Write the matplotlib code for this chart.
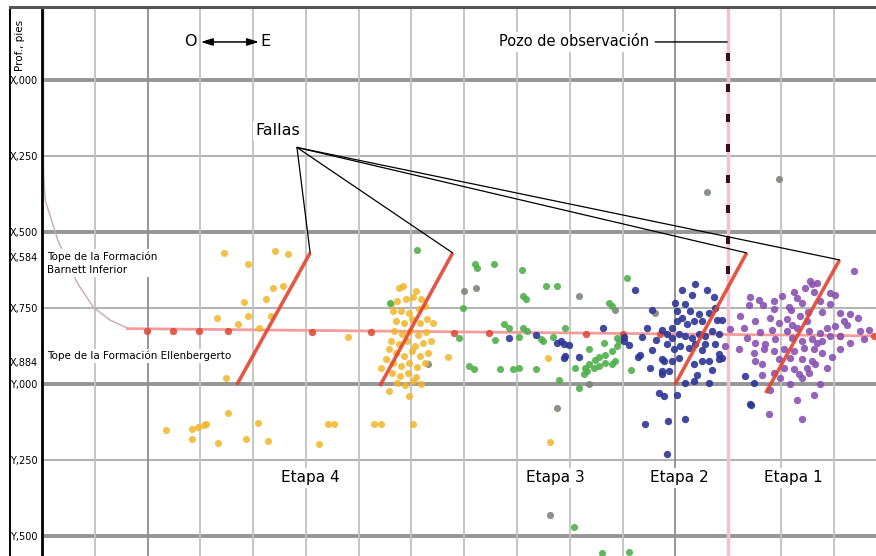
import matplotlib
matplotlib.use('Agg')
import matplotlib.pyplot as plt
from matplotlib.lines import Line2D
from matplotlib.transforms import ScaledTranslation

plt.rcParams['font.family'] = ['Liberation Sans Narrow', 'DejaVu Sans']

# Depth axis (ft below the X,000 reference)
depth_ticks = [0, 250, 500, 584, 750, 884, 1000, 1250, 1500]
depth_labels = ['X,000', 'X,250', 'X,500', 'X,584', 'X,750', 'X,884', 'Y,000', 'Y,250', 'Y,500']
major_depths = [0, 500, 1000, 1500]
minor_depths = [250, 750, 1250]
grid_east = list(range(100, 1600, 100))
dark_east = [200, 1200]

# Treatment well: build section and lateral
build_east = [3, 3, 6, 30, 67, 97, 129, 162]
build_depth = [-240, 300, 395, 527, 668, 747, 790, 816]
lateral_east = [162, 1580]
lateral_depth = [818, 842]
perf_east = [198, 249, 298, 352, 511, 623, 781, 846, 1030, 1100, 1170, 1512, 1577]
perf_depth = [826, 826, 827, 827, 829, 830, 832, 833, 835, 836, 837, 841, 842]

# Monitor well and geophone array
monitor_east = 1300
geophone_depth = [-75, 25, 125, 225, 325, 425, 525, 625]

# Interpreted faults (bottom, top)
fault_east = [(369, 508), (640, 778), (1199, 1335), (1371, 1511)]
fault_depth = [(1003, 569), (1007, 569), (1003, 569), (1030, 592)]

# Microseismic events per stage
east4 = [344, 441, 466, 391, 456, 437, 424, 382, 331, 391, 371, 433, 412, 348, 353, 409, 306, 295, 285, 234,
         285, 333, 386, 428, 524, 542, 310, 580, 770, 642, 657, 695, 553, 629, 642, 703, 958, 963,
         676, 684, 661, 673, 690, 703, 665, 680, 695, 714, 726, 671, 686, 701, 716, 730, 667, 682, 697, 713, 728,
         661, 676, 692, 707, 722, 737, 671, 686, 701, 716, 732, 665, 680, 695, 711, 726, 663, 678, 694, 709,
         673, 688, 703, 718, 652, 657, 741, 709, 718]
depth4 = [568, 564, 574, 607, 677, 683, 719, 729, 782, 776, 802, 776, 815, 980, 1096, 1129, 1135, 1142, 1148, 1152,
          1181, 1195, 1181, 1188, 1198, 1132, 1132, 845, 911, 947, 1023, 1040, 1132, 1132, 1132, 1132, 914, 1191,
          686, 677, 736, 726, 719, 713, 759, 759, 766, 752, 743, 792, 799, 785, 799, 785, 825, 835, 825, 838, 828,
          858, 868, 858, 875, 865, 858, 898, 908, 891, 908, 898, 931, 941, 931, 944, 931, 964, 974, 964, 977,
          997, 1003, 990, 1000, 917, 884, 799, 693, 719]

east3 = [711, 821, 825, 659, 798, 790, 808, 819, 857, 910, 912, 916, 954, 975, 1074, 1108, 876, 884, 912, 918,
         903, 859, 946, 969, 990, 950, 868, 893, 903, 935, 979, 1018, 1009, 1037, 1028, 1037, 1047, 1056, 1066, 1079,
         1089, 1093, 1032, 1045, 1066, 1079, 1085, 1055, 1115, 1079, 1064, 1089, 1026, 1007, 1060, 1112]
depth3 = [558, 604, 620, 733, 749, 848, 941, 950, 604, 624, 710, 719, 677, 677, 733, 650, 802, 815, 815, 825,
          845, 855, 851, 845, 815, 858, 950, 950, 947, 950, 987, 1013, 947, 884, 947, 934, 921, 911, 904, 891,
          875, 858, 957, 947, 931, 934, 924, 941, 954, 743, 865, 848, 967, 1469, 1555, 1554]

east2 = [885, 935, 975, 988, 999, 988, 1018, 1062, 1102, 1102, 1123, 1136, 1146, 1129, 1151, 1142, 1186, 1218, 1343, 1237,
         1273, 1199, 1218, 1203, 1227, 984, 990, 1174, 1178, 1184, 1193, 1203, 1212, 1222, 1235, 1245, 1250, 1264, 1275, 1193,
         1207, 1218, 1231, 1245, 1256, 1269, 1283, 1184, 1197, 1208, 1226, 1237, 1256, 1275, 1174, 1193, 1207, 1235, 1250, 1264,
         1283, 1283, 1174, 1188, 1218, 1235, 1264, 1169, 1178, 1184, 1332, 1349, 1341, 1288,
         1164, 1155, 1260, 1279, 1231, 1250, 1269, 1288, 1212, 1174, 1155, 1241, 1203, 1133, 1113]
depth2 = [848, 838, 865, 868, 871, 914, 911, 815, 845, 858, 690, 845, 815, 911, 947, 1132, 1122, 1115, 1069, 670,
          713, 733, 736, 759, 759, 858, 908, 957, 924, 835, 815, 792, 782, 802, 792, 769, 792, 766, 749, 848,
          835, 842, 848, 835, 842, 825, 835, 868, 884, 875, 881, 868, 868, 868, 917, 924, 914, 934, 924, 924,
          901, 917, 967, 957, 997, 990, 997, 1030, 1040, 1230, 974, 997, 1066, 914,
          855, 888, 691, 790, 707, 888, 954, 790, 691, 823, 757, 971, 1036, 905, 872]

east1 = [1539, 1341, 1359, 1387, 1425, 1459, 1469, 1446, 1492, 1387, 1416, 1431, 1474, 1492, 1322, 1351, 1379, 1397, 1412, 1436,
         1450, 1511, 1531, 1520, 1503, 1431, 1412, 1454, 1473, 1488, 1550, 1558, 1531, 1511, 1351, 1370, 1389, 1421, 1440, 1459,
         1478, 1492, 1511, 1321, 1349, 1368, 1387, 1406, 1425, 1444, 1463, 1478, 1351, 1364, 1397, 1417, 1440, 1459, 1406, 1425,
         1450, 1465, 1435, 1454, 1417, 1474, 1387, 1378, 1440, 1455, 1336, 1303, 1294,
         1366, 1402, 1440, 1463, 1478, 1421, 1383, 1360, 1469, 1497, 1526, 1364, 1398, 1440, 1488, 1463, 1431, 1379, 1545, 1566,
         1503, 1330, 1340, 1419, 1452]
depth1 = [627, 713, 723, 726, 696, 670, 667, 686, 700, 752, 746, 716, 726, 736, 776, 792, 782, 799, 785, 776,
          792, 766, 769, 792, 809, 815, 825, 825, 832, 815, 825, 851, 865, 842, 865, 868, 851, 848, 858, 851,
          858, 842, 884, 884, 898, 884, 891, 884, 891, 881, 884, 898, 924, 934, 917, 914, 917, 924, 947, 950,
          947, 934, 967, 964, 1000, 1000, 964, 1099, 1115, 660, 848, 818, 875,
          740, 711, 734, 697, 763, 806, 823, 829, 865, 911, 806, 971, 980, 980, 948, 1036, 1053, 1020, 783, 823,
          707, 816, 740, 757, 763]

east_other = [800, 823, 1017, 975, 1037, 963, 1085, 1161, 1260, 1397, 732]
depth_other = [693, 683, 710, 1079, 1000, 1432, 756, 766, 370, 327, 934]

stage_names = ['Etapa 4', 'Etapa 3', 'Etapa 2', 'Etapa 1']
stage_label_east = [509, 972, 1208, 1424]
stage_label_depth = 1309

fig = plt.figure(figsize=(8.76, 5.56), dpi=100)
ax = fig.add_axes([42 / 876, 0, 834 / 876, 549 / 556])
ax.set_xlim(0, 1580)
ax.set_ylim(1566, -240)

# grid
for d in major_depths:
    ax.axhline(d, color='#969696', lw=2.8, zorder=1)
for d in minor_depths:
    ax.axhline(d, color='#ababab', lw=1.3, zorder=1)
for e in grid_east:
    c = '#8e8e8e' if e in dark_east else '#c2c2c2'
    ax.axvline(e, color=c, lw=1.3, zorder=1)

# wells
ax.axvline(monitor_east, color='#f6bfce', lw=2.4, zorder=2)
ax.plot(build_east, build_depth, color='#c8aaaa', lw=1.0, zorder=2)
ax.plot(lateral_east, lateral_depth, color='#f29c9c', lw=2.0, zorder=2)
ax.scatter(perf_east, perf_depth, s=28, color='#de4c3e', alpha=0.9, zorder=3, linewidths=0)
bar = [(-0.4, -1), (0.4, -1), (0.4, 1), (-0.4, 1)]
ax.scatter([monitor_east] * len(geophone_depth), geophone_depth, marker=bar, s=30,
           color='#3d0c1c', zorder=6, linewidths=0)

# events
ax.scatter(east_other, depth_other, s=26, color='#7d857a', alpha=0.9, linewidths=0, zorder=4)
ax.scatter(east4, depth4, s=26, color='#f2b52a', alpha=0.85, linewidths=0, zorder=4)
ax.scatter(east3, depth3, s=26, color='#4fb04a', alpha=0.9, linewidths=0, zorder=4)
ax.scatter(east2, depth2, s=28, color='#2c3596', alpha=0.9, linewidths=0, zorder=4)
ax.scatter(east1, depth1, s=28, color='#8a52b2', alpha=0.9, linewidths=0, zorder=4)

# faults
for fe, fd in zip(fault_east, fault_depth):
    ax.plot(fe, fd, color='#e2452f', lw=2.6, alpha=0.9, zorder=5, solid_capstyle='butt')

white = dict(facecolor='white', edgecolor='none', pad=1.5)

# fault callouts
for fe, fd in zip(fault_east, fault_depth):
    ax.annotate('', xy=(fe[1], fd[1]), xytext=(483, 222),
                arrowprops=dict(arrowstyle='-', color='black', lw=0.9, shrinkA=0, shrinkB=0), zorder=7)
ax.text(447, 165, 'Fallas', fontsize=11.5, ha='center', va='center', bbox=white, zorder=8)

ax.annotate('Pozo de observación', xy=(1298, -125), xytext=(1150, -125), fontsize=10.5,
            ha='right', va='center', bbox=white, zorder=8,
            arrowprops=dict(arrowstyle='-', color='black', lw=1.0, shrinkA=3, shrinkB=0))

# orientation
ax.text(282, -125, 'O', fontsize=11.5, ha='center', va='center', bbox=white, zorder=8)
ax.text(423, -125, 'E', fontsize=11.5, ha='center', va='center', bbox=white, zorder=8)
ax.annotate('', xy=(411, -125), xytext=(301, -125), zorder=8,
            arrowprops=dict(arrowstyle='<|-|>,head_length=0.7,head_width=0.22', color='black',
                            lw=1.1, shrinkA=0, shrinkB=0))

# formation tops
ax.text(10, 602, 'Tope de la Formación\nBarnett Inferior', fontsize=7.5, ha='left', va='center',
        linespacing=1.35, bbox=white, zorder=8)
ax.text(10, 908, 'Tope de la Formación Ellenbergerto', fontsize=7.5, ha='left', va='center',
        bbox=white, zorder=8)

for name, se in zip(stage_names, stage_label_east):
    ax.text(se, stage_label_depth, name, fontsize=11, ha='center', va='center', bbox=white, zorder=8)

# axes styling
ax.set_xticks([])
ax.set_yticks(depth_ticks)
ax.set_yticklabels(depth_labels, fontsize=7)
ax.tick_params(axis='y', length=0, pad=3)
for lab, d in zip(ax.get_yticklabels(), depth_ticks):
    if d == 884:
        lab.set_transform(lab.get_transform() + ScaledTranslation(0, -0.13, fig.dpi_scale_trans))
for side in ['right', 'bottom']:
    ax.spines[side].set_visible(False)
ax.spines['left'].set_color('black')
ax.spines['left'].set_linewidth(2.0)
ax.spines['top'].set_color('#555555')
ax.spines['top'].set_linewidth(2.2)

# outer frame
fig.add_artist(Line2D([10 / 876, 10 / 876], [0, 549 / 556], color='black', lw=1.4))
fig.add_artist(Line2D([10 / 876, 42 / 876], [549 / 556, 549 / 556], color='#555555', lw=2.2))
fig.text(20 / 876, 1 - 45 / 556, 'Prof., pies', rotation=90, fontsize=7.5, ha='center', va='center')

fig.savefig('out.png', dpi=100)
